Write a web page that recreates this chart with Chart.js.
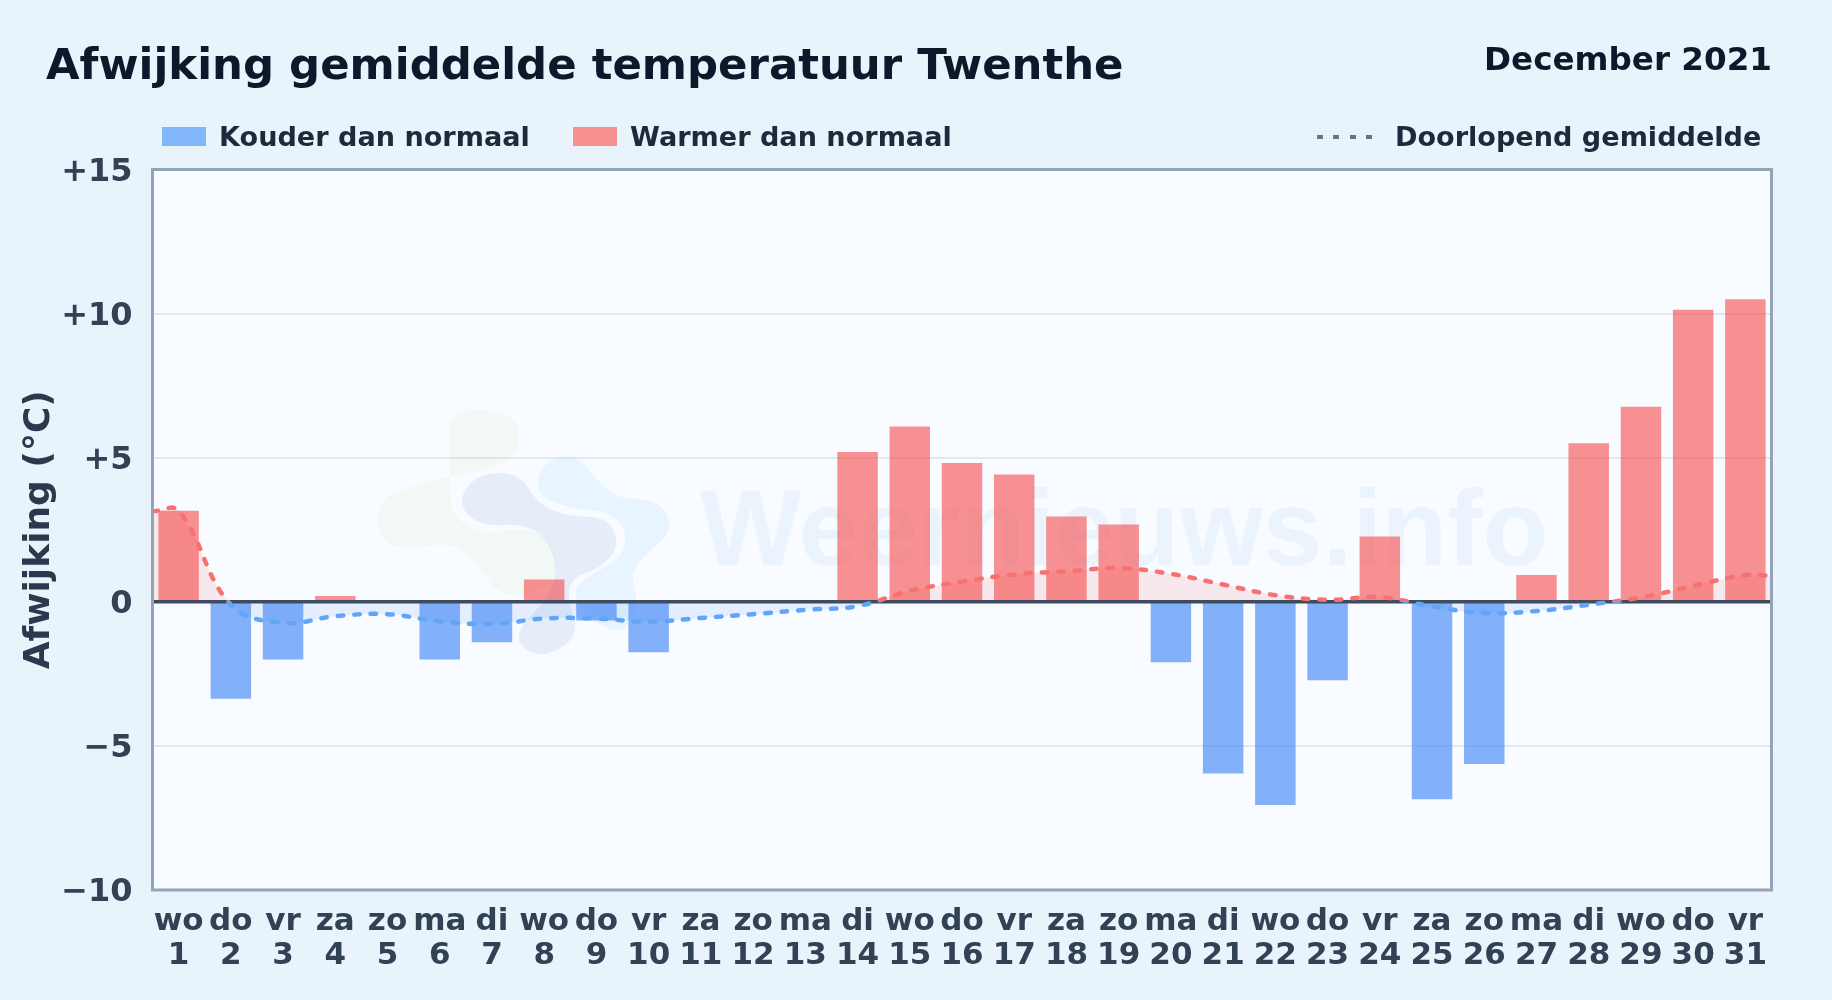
<!DOCTYPE html>
<html lang="nl">
<head>
<meta charset="utf-8">
<title>Afwijking gemiddelde temperatuur Twenthe</title>
<script src="https://cdn.jsdelivr.net/npm/chart.js@4"></script>
<style>
    html, body { margin: 0; padding: 0; }
    body {
        width: 1832px; height: 1000px; position: relative; overflow: hidden;
        background: linear-gradient(100deg, #e8f3fb, #e9f3fc);
        font-family: "DejaVu Sans", sans-serif; font-weight: bold;
    }
    canvas { position: absolute; left: 0; top: 0; }
    .tekst { position: absolute; white-space: nowrap; line-height: 1; }
    #titel { left: 46px; top: 43px; font-size: 43.4px; color: #0f172a; }
    #datum { right: 60px; top: 43px; font-size: 32.6px; color: #0f172a; }
    .legenda { top: 123px; font-size: 27.1px; color: #1e293b; }
    .blok { position: absolute; top: 127px; width: 44px; height: 19px; }
    #stippel { position: absolute; left: 1317px; top: 135px; width: 56px; height: 4px;
        background: repeating-linear-gradient(90deg, #64748b 0 6px, transparent 6px 16.5px); }
</style>
</head>
<body>
<canvas id="grafiek" width="1832" height="1000"></canvas>
<div class="tekst" id="titel">Afwijking gemiddelde temperatuur Twenthe</div>
<div class="tekst" id="datum">December 2021</div>
<div class="blok" style="left:162px;background:#82b6fb"></div>
<div class="tekst legenda" style="left:219px">Kouder dan normaal</div>
<div class="blok" style="left:573px;background:#f79191"></div>
<div class="tekst legenda" style="left:630px">Warmer dan normaal</div>
<div id="stippel"></div>
<div class="tekst legenda" style="left:1395px">Doorlopend gemiddelde</div>

<script>
const weekdagen = ["wo","do","vr","za","zo","ma","di","wo","do","vr","za","zo","ma","di","wo","do","vr","za","zo","ma","di","wo","do","vr","za","zo","ma","di","wo","do","vr"];
const dagen = [1,2,3,4,5,6,7,8,9,10,11,12,13,14,15,16,17,18,19,20,21,22,23,24,25,26,27,28,29,30,31];
const afwijking = [3.16,-3.36,-2.0,0.2,0,-2.0,-1.4,0.77,-0.65,-1.75,0,0,0,5.2,6.08,4.82,4.42,2.96,2.68,-2.1,-5.96,-7.05,-2.72,2.27,-6.85,-5.63,0.93,5.5,6.77,10.13,10.5];
const lijnDagen = [0.5,1,2,3,4,5,6,7,8,9,10,11,12,13,14,15,16,17,18,19,20,21,22,23,24,25,26,27,28,29,30,31,31.5];
const gemiddelde = [3.14,3.16,-0.1,-0.73,-0.5,-0.43,-0.68,-0.77,-0.58,-0.58,-0.69,-0.56,-0.43,-0.28,-0.15,0.38,0.7,0.95,1.06,1.17,0.97,0.6,0.23,0.07,0.16,-0.16,-0.39,-0.32,-0.1,0.15,0.55,0.93,0.9];
const nulDagen = [0.5,31.5];
const nulWaarden = [0,0];
const asTicks = [-10,-5,0,5,10,15];

const KLEUR_BLAUW = "rgba(59,130,246,0.62)";
const KLEUR_ROOD = "rgba(246,68,68,0.58)";

window.onload = tekenGrafiek;

function tekenGrafiek() {
    new Chart(document.querySelector("#grafiek"), {
        type: "bar",
        data: {
            labels: weekdagen.map((dag, i) => [dag, String(dagen[i])]),
            datasets: [
                {
                    type: "line",
                    label: "Doorlopend gemiddelde",
                    data: lijnDagen.map((dag, i) => ({ x: dag, y: gemiddelde[i] })),
                    xAxisID: "xDag",
                    order: 0,
                    borderColor: lijnKleur,
                    borderWidth: 4.5,
                    borderDash: [5.5, 11],
                    borderCapStyle: "round",
                    pointRadius: 0,
                    tension: 0.4,
                    fill: {
                        target: { value: 0 },
                        above: "rgba(239,68,68,0.1)",
                        below: "rgba(59,130,246,0.1)"
                    }
                },
                {
                    type: "line",
                    label: "Nullijn",
                    data: nulDagen.map((dag, i) => ({ x: dag, y: nulWaarden[i] })),
                    xAxisID: "xDag",
                    order: 1,
                    borderColor: "#3f4b5f",
                    borderWidth: 3.5,
                    pointRadius: 0
                },
                {
                    label: "Afwijking",
                    data: afwijking,
                    order: 2,
                    grouped: false,
                    barPercentage: 0.775,
                    categoryPercentage: 1,
                    backgroundColor: context => context.raw < 0 ? KLEUR_BLAUW : KLEUR_ROOD
                }
            ]
        },
        options: {
            responsive: false,
            devicePixelRatio: 1,
            animation: false,
            layout: { padding: { top: 169.5, right: 60.5, left: 0, bottom: 0 } },
            plugins: {
                legend: { display: false },
                tooltip: { enabled: false },
                filler: { drawTime: "beforeDatasetsDraw" }
            },
            scales: {
                x: {
                    afterFit: scale => { scale.height = 110; },
                    grid: { display: false },
                    border: { display: false },
                    ticks: {
                        autoSkip: false,
                        maxRotation: 0,
                        padding: 7,
                        color: "#334155",
                        font: { family: "DejaVu Sans", weight: "bold", size: 31, lineHeight: 1.1 }
                    }
                },
                xDag: { type: "linear", display: false, offset: false, min: 0.5, max: 31.5 },
                y: {
                    min: -10,
                    max: 15,
                    afterFit: scale => { scale.width = 152.5; },
                    afterBuildTicks: scale => { scale.ticks = asTicks.map(value => ({ value })); },
                    grid: { color: "#e2e8ee", lineWidth: 2, drawTicks: false },
                    border: { display: false },
                    ticks: {
                        padding: 20,
                        color: "#334155",
                        font: { family: "DejaVu Sans", weight: "bold", size: 32 },
                        callback: waarde => waarde > 0 ? "+" + waarde : waarde < 0 ? "\u2212" + Math.abs(waarde) : "0"
                    },
                    title: {
                        display: true,
                        text: "Afwijking (°C)",
                        color: "#2b384d",
                        padding: { top: 18, bottom: 0 },
                        font: { family: "DejaVu Sans", weight: "bold", size: 36 }
                    }
                }
            }
        },
        plugins: [plotAchtergrond]
    });
}

// harde overgang op de nullijn: rood erboven, blauw eronder
function lijnKleur(context) {
    const { chart } = context;
    if (!chart.chartArea) return "#60a5fa";
    const { top, bottom } = chart.chartArea;
    const nul = (chart.scales.y.getPixelForValue(0) - top) / (bottom - top);
    const verloop = chart.ctx.createLinearGradient(0, top, 0, bottom);
    verloop.addColorStop(0, "#f87171");
    verloop.addColorStop(nul, "#f87171");
    verloop.addColorStop(nul, "#60a5fa");
    verloop.addColorStop(1, "#60a5fa");
    return verloop;
}

function vlek(ctx, punten, kleur) {
    const p = punten.map(([x, y]) => [340 + x / 3, 380 + y / 3]);
    ctx.beginPath();
    ctx.moveTo((p[0][0] + p[1][0]) / 2, (p[0][1] + p[1][1]) / 2);
    for (let i = 1; i <= p.length; i++) {
        const a = p[i % p.length];
        const b = p[(i + 1) % p.length];
        ctx.quadraticCurveTo(a[0], a[1], (a[0] + b[0]) / 2, (a[1] + b[1]) / 2);
    }
    ctx.closePath();
    ctx.fillStyle = kleur;
    ctx.fill();
}

const plotAchtergrond = {
    id: "plotAchtergrond",
    beforeDatasetsDraw(chart) {
        const { ctx } = chart;
        ctx.save();
        // watermerk
        vlek(ctx, [[325,170],[335,100],[430,85],[535,115],[540,230],[430,270],[330,290],[240,315],[115,350],[115,480],[200,510],[340,485],[420,560],[470,640],[560,650],[645,600],[650,510],[570,440],[430,465],[335,410],[330,310],[330,240]], "rgba(195,225,160,0.11)");
        vlek(ctx, [[590,290],[630,235],[710,225],[770,300],[830,355],[960,360],[1000,450],[920,520],[870,580],[895,660],[860,755],[780,740],[715,680],[700,620],[770,575],[850,530],[860,440],[790,390],[690,385],[600,350]], "rgba(120,200,255,0.13)");
        vlek(ctx, [[365,340],[420,280],[540,280],[590,370],[680,410],[800,410],[840,490],[790,560],[700,590],[680,650],[720,770],[600,840],[510,770],[640,640],[650,520],[570,430],[430,440],[365,390]], "rgba(100,150,205,0.13)");
        ctx.font = "bold 107px 'Liberation Sans'";
        ctx.fillStyle = "rgba(70,135,215,0.07)";
        ctx.textBaseline = "alphabetic";
        ctx.fillText("Weernieuws.info", 700, 565);
        ctx.restore();
    },
    beforeDraw(chart) {
        const { ctx, chartArea: { left, top, width, height } } = chart;
        ctx.save();
        ctx.fillStyle = "#f8fbff";
        ctx.fillRect(left, top, width, height);
        ctx.restore();
        // de aslabels staan in het origineel iets lager
        chart.scales.y.getLabelItems().forEach(item => { item.options.translation[1] += 3; });
    },
    afterDatasetsDraw(chart) {
        const { ctx, chartArea: { left, top, width, height } } = chart;
        ctx.save();
        ctx.strokeStyle = "#94a3b8";
        ctx.lineWidth = 3;
        ctx.strokeRect(left, top, width, height);
        ctx.restore();
    }
};
</script>
</body>
</html>
